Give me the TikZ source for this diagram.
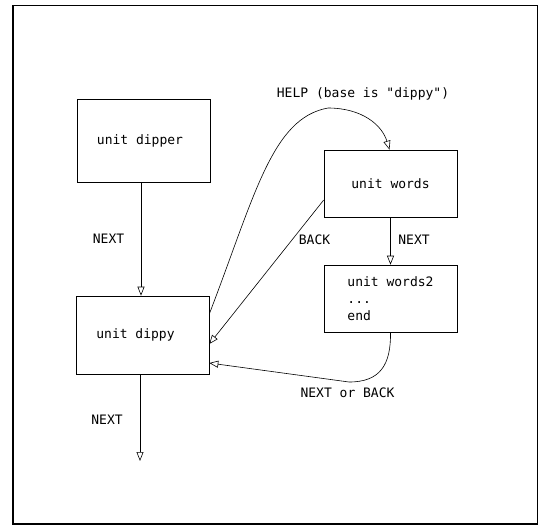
\documentclass[tikz,border=0pt]{standalone}
\usepackage{fontspec}
\setmonofont{DejaVu Sans Mono}
\usepackage{tikz}
\usetikzlibrary{positioning, arrows.meta}

\begin{document}
\begin{tikzpicture}[
        x=1pt, y=-1pt,
        >={Triangle[open, length=9pt, width=7pt]},
        line width=0.6pt,
        font=\ttfamily\fontsize{13}{17}\selectfont,
        every unit/.style={draw, rectangle, minimum width=133pt, align=left},
        label text/.style={inner sep=0pt}
    ]
        \useasboundingbox (0,0) rectangle (540,528);
        % frame round the figure
        \draw (13,5) rectangle (537,524);
        \draw[line width=2pt] (13,5) -- (13,524) -- (537,524);

        \node[every unit, minimum height=83pt] (dipper) at (144,140.5) {unit dipper\hspace{8pt}};
        \node[every unit, minimum height=78pt] (dippy) at (142.5,335) {unit dippy\hspace{14pt}};
        \node[every unit, minimum height=67pt] (words) at (390.5,183.5) {unit words};
        \node[every unit, minimum height=67pt] (words2) at (390.5,298.5) {unit words2\\...\\end};
        \coordinate (out) at (140,461);

        \path[->]
        ([xshift=-3pt]dipper.south) edge ([xshift=-3pt]dipper.south |- dippy.north)
        (dippy.south -| out) edge (out)
        (words.south) edge (words2.north)
        ([yshift=-16.5pt]words.west) edge ([yshift=-9pt]dippy.east);

        \draw[->] ([yshift=21pt]dippy.east) .. controls (255,195) and (272,118) .. (328,108)
            .. controls (362,108) and (382,125) .. ([xshift=-1pt]words.north);
        \draw[->] (words2.south) .. controls (391,365) and (380,382) .. (349,382)
            -- ([yshift=-28pt]dippy.east);

        \node[label text] (help) at (363,94) {HELP (base is "dippy")};
        \node[label text] (n1) at (108.5,239) {NEXT};
        \node[label text] (back) at (314.5,240) {BACK};
        \node[label text] (n2) at (414,240) {NEXT};
        \node[label text] (n3) at (107,420) {NEXT};
        \node[label text] (nb) at (347.5,393) {NEXT or BACK};
\end{tikzpicture}
\end{document}
